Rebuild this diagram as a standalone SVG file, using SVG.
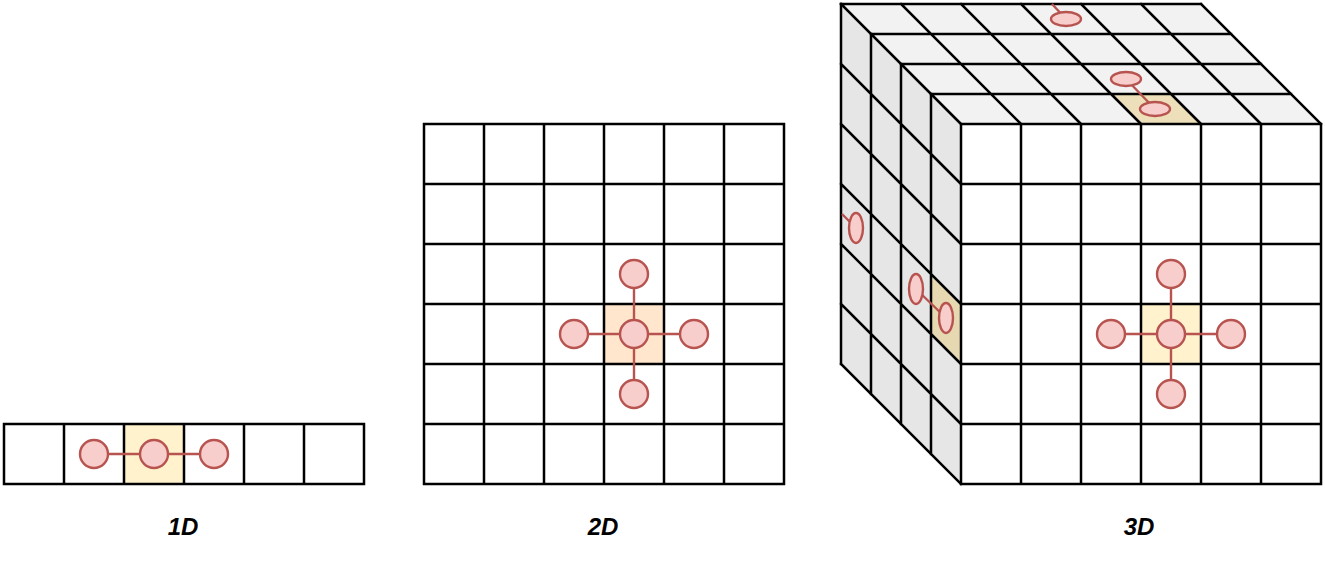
<svg xmlns="http://www.w3.org/2000/svg" width="1325" height="567" viewBox="0 0 1325 567">
<style>
.g{fill:none;stroke:#000;stroke-width:2.5;stroke-linecap:square}
.n{fill:#F8CECC;stroke:#B85450;stroke-width:2.4}
.e{stroke:#B85450;stroke-width:2.4;fill:none}
.lbl{font-family:"Liberation Sans",Arial,sans-serif;font-size:24px;font-weight:bold;font-style:italic;text-anchor:middle;fill:#000}
</style>
<rect width="1325" height="567" fill="#fff"/>
<g id="grid1d">
<rect x="4" y="424" width="360" height="60" fill="#fff"/>
<rect x="124" y="424" width="60" height="60" fill="#FFF2CC"/>
<path class="g" d="M4,424H364V484H4Z M64,424V484 M124,424V484 M184,424V484 M244,424V484 M304,424V484"/>
</g>
<g id="grid2d">
<rect x="424" y="124" width="360" height="360" fill="#fff"/>
<rect x="604" y="304" width="60" height="60" fill="#FFE6CC"/>
<path class="g" d="M424,124H784V484H424Z M484,124V484 M544,124V484 M604,124V484 M664,124V484 M724,124V484 M424,184H784 M424,244H784 M424,304H784 M424,364H784 M424,424H784"/>
</g>
<g id="cube3d">
<polygon points="841,4 1201,4 1321,124 961,124" fill="#F2F2F2"/>
<polygon points="841,4 961,124 961,484 841,364" fill="#E6E6E6"/>
<polygon points="1111,94 1171,94 1201,124 1141,124" fill="#EDDFB9"/>
<polygon points="931,274 961,304 961,364 931,334" fill="#E6D9B2"/>
<path class="g" d="M841,4H1201 M871,34H1231 M901,64H1261 M931,94H1291 M841,4L961,124 M901,4L1021,124 M961,4L1081,124 M1021,4L1141,124 M1081,4L1201,124 M1141,4L1261,124 M1201,4L1321,124"/>
<path class="g" d="M841,4V364 M871,34V394 M901,64V424 M931,94V454 M841,64L961,184 M841,124L961,244 M841,184L961,304 M841,244L961,364 M841,304L961,424 M841,364L961,484"/>
<rect x="961" y="124" width="360" height="360" fill="#fff"/>
<rect x="1141" y="304" width="60" height="60" fill="#FFF2CC"/>
<path class="g" d="M961,124H1321V484H961Z M1021,124V484 M1081,124V484 M1141,124V484 M1201,124V484 M1261,124V484 M961,184H1321 M961,244H1321 M961,304H1321 M961,364H1321 M961,424H1321"/>
</g>
<g id="connectors">
<path class="e" d="M94,454H214"/>
<path class="e" d="M574,334H694 M634,274V394"/>
<path class="e" d="M1111,334H1231 M1171,274V394"/>
<path class="e" d="M1126,79L1155,109 M1052,4L1066,19 M842,214L856,228 M916,289L946,318"/>
</g>
<g id="nodes1d">
<circle class="n" cx="94" cy="454" r="14"/>
<circle class="n" cx="154" cy="454" r="14"/>
<circle class="n" cx="214" cy="454" r="14"/>
</g>
<g id="nodes2d">
<circle class="n" cx="634" cy="334" r="14"/>
<circle class="n" cx="574" cy="334" r="14"/>
<circle class="n" cx="694" cy="334" r="14"/>
<circle class="n" cx="634" cy="274" r="14"/>
<circle class="n" cx="634" cy="394" r="14"/>
</g>
<g id="nodes3d">
<circle class="n" cx="1171" cy="334" r="14"/>
<circle class="n" cx="1111" cy="334" r="14"/>
<circle class="n" cx="1231" cy="334" r="14"/>
<circle class="n" cx="1171" cy="274" r="14"/>
<circle class="n" cx="1171" cy="394" r="14"/>
<ellipse class="n" cx="1066" cy="19" rx="15" ry="7"/>
<ellipse class="n" cx="1126" cy="79" rx="15" ry="7"/>
<ellipse class="n" cx="1155" cy="109" rx="15" ry="7"/>
<ellipse class="n" cx="856" cy="228" rx="7" ry="15"/>
<ellipse class="n" cx="916" cy="289" rx="7" ry="15"/>
<ellipse class="n" cx="946" cy="318" rx="7" ry="15"/>
</g>
<g id="labels">
<text class="lbl" x="183" y="535">1D</text>
<text class="lbl" x="603" y="535">2D</text>
<text class="lbl" x="1139" y="535">3D</text>
</g>
</svg>
